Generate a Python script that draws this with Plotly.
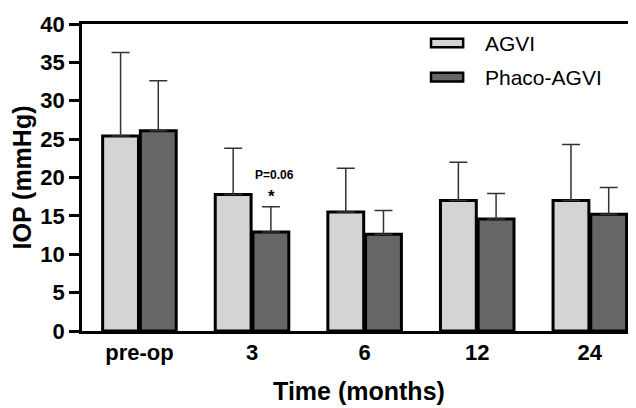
import plotly.graph_objects as go

categories = ["pre-op", "3", "6", "12", "24"]
agvi_mean = [25.4, 17.8, 15.5, 17.0, 17.0]
agvi_sd = [10.9, 6.0, 5.7, 5.0, 7.3]
phaco_mean = [26.1, 12.9, 12.6, 14.6, 15.2]
phaco_sd = [6.5, 3.3, 3.1, 3.3, 3.5]
series_names = ["AGVI", "Phaco-AGVI"]
series_colors = ["#d4d4d4", "#666666"]

x_idx = list(range(len(categories)))
font_family = "Liberation Sans, Arial, sans-serif"

fig = go.Figure()
for name, color, mean, sd in zip(series_names, series_colors,
                                 [agvi_mean, phaco_mean], [agvi_sd, phaco_sd]):
    fig.add_trace(go.Bar(
        x=x_idx, y=mean, name=name, showlegend=False,
        marker=dict(color=color, line=dict(color="black", width=3)),
        error_y=dict(type="data", array=sd, arrayminus=[0] * len(sd), symmetric=False,
                     color="#333333", thickness=1.5, width=9),
    ))

# manual legend (wide flat swatches like the original)
leg_y = [0.938, 0.827]
for name, color, yc in zip(series_names, series_colors, leg_y):
    fig.add_shape(type="rect", xref="paper", yref="paper",
                  x0=0.630, x1=0.688, y0=yc - 0.014, y1=yc + 0.014,
                  fillcolor=color, line=dict(color="black", width=2.5))
    fig.add_annotation(x=0.724, y=yc, xref="paper", yref="paper", text=name,
                       xanchor="left", yanchor="middle", showarrow=False,
                       font=dict(family=font_family, size=21, color="black"))

fig.add_annotation(x=1.2, y=20.3, xref="x", yref="y", text="<b>P=0.06</b>",
                   showarrow=False, font=dict(family=font_family, size=12, color="black"))
fig.add_annotation(x=1.17, y=17.5, xref="x", yref="y", text="<b>*</b>",
                   showarrow=False, font=dict(family=font_family, size=17, color="black"))

# page body has an 8px default margin, so the figure is 8px smaller than the window
fig.update_layout(
    width=628, height=400,
    margin=dict(l=74, r=0, t=16, b=77),
    paper_bgcolor="white", plot_bgcolor="white",
    barmode="group", bargap=0.33, bargroupgap=0.05,
    font=dict(family=font_family, color="black"),
    showlegend=False,
    xaxis=dict(
        tickmode="array", tickvals=x_idx, ticktext=categories,
        range=[-0.51, 4.41], showgrid=False, zeroline=False, automargin=False,
        showline=True, linecolor="black", linewidth=2.5, mirror=True,
        ticks="", tickfont=dict(size=22, family=font_family, weight="bold"),
        title=dict(text="<b>Time (months)</b>", font=dict(size=25), standoff=19),
    ),
    yaxis=dict(
        range=[0, 40], tickvals=[0, 5, 10, 15, 20, 25, 30, 35, 40],
        showgrid=False, zeroline=False, automargin=False,
        showline=True, linecolor="black", linewidth=2.5,
        ticks="outside", ticklen=10, tickwidth=2.5, tickcolor="black",
        tickfont=dict(size=22, family=font_family, weight="bold"),
        title=dict(text="<b>IOP (mmHg)</b>", font=dict(size=25), standoff=6),
    ),
)

fig.write_html("out.html")
